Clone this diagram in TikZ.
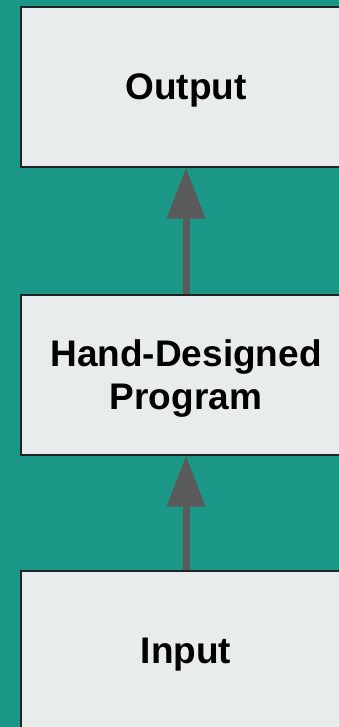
\documentclass[tikz,border=0pt]{standalone}
\usepackage{fontspec}
\setmainfont{Liberation Sans}
\usetikzlibrary{arrows.meta,positioning}
\definecolor{teal bg}{HTML}{1A9786}
\definecolor{box fill}{HTML}{E8ECED}
\definecolor{box line}{HTML}{222222}
\definecolor{arrow gray}{HTML}{5A5A5A}

\begin{document}
\begin{tikzpicture}[x=1pt,y=1pt]
  \tikzset{
    stage/.style={
      draw=box line, fill=box fill, line width=1.5pt,
      minimum width=330pt, minimum height=160pt, text depth=0pt,
      align=center, font=\fontsize{37}{43}\selectfont\bfseries
    },
    flow/.style={
      draw=arrow gray, line width=7pt,
      -{Triangle[length=51pt,width=37pt]}
    },
  }
  \fill[teal bg] (0,0) rectangle (339,727);
  \useasboundingbox (0,0) rectangle (339,727);
  \begin{scope}
    \clip (0,0) rectangle (339,727);
    \node[stage] (output) at (186,640) {Output};
    \node[stage] (program) at (186,352) {Hand-Designed\\Program};
    \node[stage] (input) at (186,76) {Input};

    \draw[flow] (input) -- (program);
    \draw[flow] (program) -- (output);
  \end{scope}
\end{tikzpicture}
\end{document}
